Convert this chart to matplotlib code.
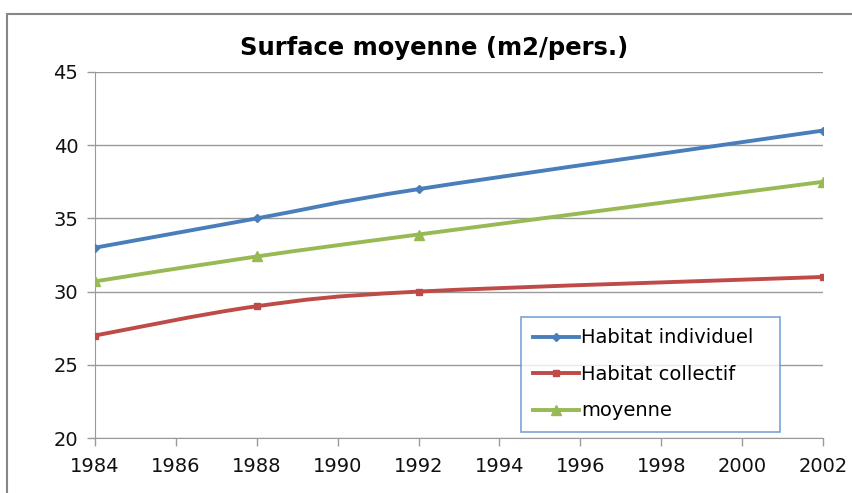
import numpy as np
import matplotlib
matplotlib.use("Agg")
import matplotlib.pyplot as plt
from matplotlib.path import Path
from matplotlib.patches import PathPatch, Rectangle
from matplotlib.lines import Line2D

# Data
years = [1984, 1988, 1992, 2002]
individuel = [33, 35, 37, 41]
collectif = [27, 29, 30, 31]
moyenne = [30.7, 32.4, 33.9, 37.5]
labels = ['Habitat individuel', 'Habitat collectif', 'moyenne']

plt.rcParams['font.family'] = ['DejaVu Sans']


def smooth_path(x, y):
    # Excel-like smoothed line: cubic bezier with Catmull-Rom control points
    x = np.asarray(x, float)
    y = np.asarray(y, float)
    verts = [(x[0], y[0])]
    codes = [Path.MOVETO]
    n = len(x)
    for i in range(n - 1):
        p0 = (x[i - 1], y[i - 1]) if i > 0 else (x[i], y[i])
        p1 = (x[i], y[i])
        p2 = (x[i + 1], y[i + 1])
        p3 = (x[i + 2], y[i + 2]) if i + 2 < n else p2
        c1 = (p1[0] + (p2[0] - p0[0]) / 6, p1[1] + (p2[1] - p0[1]) / 6)
        c2 = (p2[0] - (p3[0] - p1[0]) / 6, p2[1] - (p3[1] - p1[1]) / 6)
        verts += [c1, c2, p2]
        codes += [Path.CURVE4] * 3
    return Path(verts, codes)


fig = plt.figure(figsize=(8.52, 4.93), dpi=100)
ax = fig.add_axes([95 / 852, 1 - 438 / 493, (823 - 95) / 852, (438 - 72) / 493])

# chart border
fig.patches.append(Rectangle((7 / 852, -0.1), 1.2, 1 - 14 / 493 + 0.1,
                             transform=fig.transFigure, fill=False,
                             edgecolor='#868686', lw=1.5))

series = [
    (individuel, '#4A7EBB', 'D', 4.5),
    (collectif, '#BE4B48', 's', 5),
    (moyenne, '#98B954', '^', 6.5),
]
handles = []
for vals, col, mk, ms in series:
    ax.add_patch(PathPatch(smooth_path(years, vals), fill=False,
                           edgecolor=col, lw=2.8, capstyle='round', zorder=3))
    ax.plot(years, vals, linestyle='none', marker=mk, color=col,
            markersize=ms, zorder=4)
    handles.append(Line2D([], [], color=col, lw=2.8, marker=mk, markersize=ms))

ax.set_xlim(1984, 2002)
ax.set_ylim(20, 45)
ax.set_xticks(range(1984, 2003, 2))
ax.set_yticks(range(20, 46, 5))
ax.yaxis.grid(True, color='#9A9A9A', lw=1)
ax.set_axisbelow(True)
for s in ['top', 'right']:
    ax.spines[s].set_visible(False)
for s in ['left', 'bottom']:
    ax.spines[s].set_color('#9A9A9A')
ax.tick_params(axis='both', colors='#9A9A9A', labelcolor='#111111',
               labelsize=14, length=6, width=1)
ax.tick_params(axis='x', pad=8)
ax.tick_params(axis='y', pad=6)

fig.text(434 / 852, 1 - 48 / 493, 'Surface moyenne (m2/pers.)',
         ha='center', va='center', fontsize=17.5, fontweight='bold')

leg = ax.legend(handles, labels, loc='lower left',
                bbox_to_anchor=((521 - 95) / 728, (438 - 432) / 366,
                                (780 - 521) / 728, (432 - 311) / 366),
                mode='expand', fontsize=14, frameon=True, fancybox=False,
                handlelength=2.4, handletextpad=0.1, labelspacing=0.9,
                borderaxespad=0, borderpad=0.6)
leg.get_frame().set_edgecolor('#5B8BD0')
leg.get_frame().set_linewidth(1.2)

fig.savefig('out.png', dpi=100)
